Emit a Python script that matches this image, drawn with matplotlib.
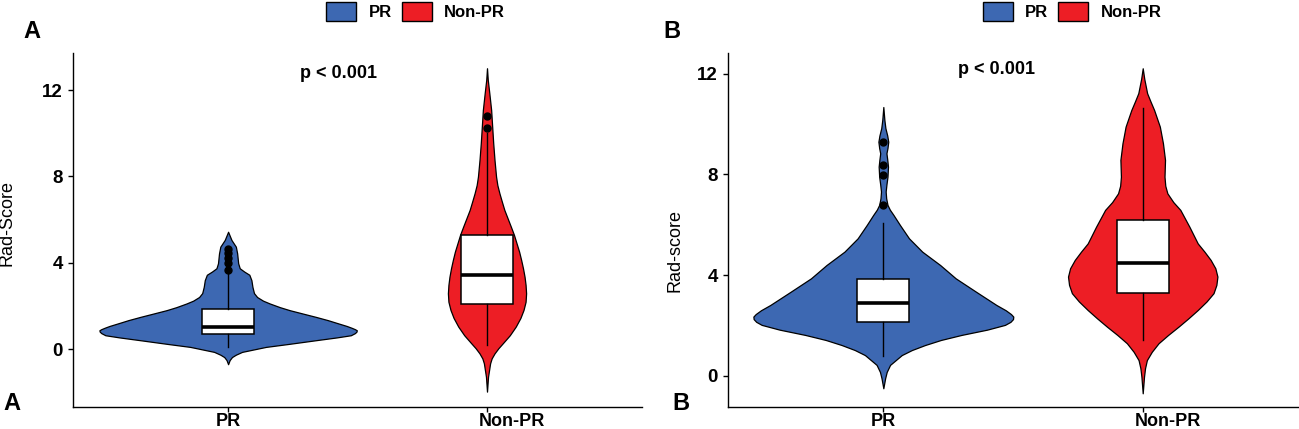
import matplotlib.pyplot as plt
from matplotlib.patches import Patch
from matplotlib.transforms import ScaledTranslation

plt.rcParams['font.family'] = ['Liberation Sans', 'DejaVu Sans']
plt.rcParams['font.weight'] = 'bold'

groups = ['PR', 'Non-PR']
colors = ['#3D68B2', '#ED1E25']

# violin outlines: score level and half width (category units)
a_pr_y = [5.44, 5.06, 4.75, 4.44, 3.98, 3.75, 3.60, 3.45, 3.20, 2.89, 2.60, 2.42, 2.25,
          2.12, 1.95, 1.81, 1.65, 1.50, 1.35, 1.19, 1.08, 1.00, 0.93, 0.88, 0.82, 0.75,
          0.65, 0.55, 0.42, 0.25, 0.11, -0.12, -0.25, -0.36, -0.50, -0.69]
a_pr_w = [0.0, 0.013, 0.030, 0.035, 0.039, 0.045, 0.062, 0.082, 0.090, 0.094, 0.100,
          0.112, 0.135, 0.161, 0.200, 0.238, 0.290, 0.339, 0.385, 0.428, 0.458, 0.476,
          0.490, 0.497, 0.496, 0.490, 0.474, 0.420, 0.339, 0.235, 0.146, 0.054, 0.030,
          0.015, 0.006, 0.0]

a_np_y = [13.01, 12.47, 11.85, 11.08, 10.31, 9.54, 8.76, 7.99, 7.60, 7.22, 6.85, 6.45,
          6.05, 5.68, 5.30, 4.91, 4.52, 4.13, 3.75, 3.36, 2.98, 2.59, 2.20, 1.82, 1.45,
          1.05, 0.65, 0.28, 0.05, -0.19, -0.42, -0.65, -1.27, -1.96]
a_np_w = [0.0, 0.003, 0.009, 0.016, 0.020, 0.024, 0.029, 0.035, 0.040, 0.048, 0.057,
          0.067, 0.080, 0.092, 0.104, 0.114, 0.124, 0.132, 0.139, 0.145, 0.149, 0.151,
          0.149, 0.141, 0.129, 0.111, 0.088, 0.061, 0.044, 0.029, 0.018, 0.012, 0.004, 0.0]

b_pr_y = [10.68, 10.17, 9.84, 9.55, 9.30, 9.05, 8.84, 8.60, 8.31, 7.91, 7.60, 7.32, 7.05,
          6.79, 6.60, 6.39, 5.99, 5.46, 4.93, 4.40, 3.87, 3.34, 2.81, 2.60, 2.45, 2.35,
          2.25, 2.14, 2.02, 1.83, 1.62, 1.42, 1.22, 1.02, 0.82, 0.43, 0.15, -0.10, -0.50]
b_pr_w = [0.0, 0.004, 0.008, 0.015, 0.019, 0.016, 0.012, 0.015, 0.018, 0.016, 0.012,
          0.009, 0.011, 0.016, 0.025, 0.039, 0.064, 0.099, 0.150, 0.219, 0.279, 0.357,
          0.436, 0.472, 0.492, 0.501, 0.500, 0.490, 0.469, 0.400, 0.301, 0.222, 0.161,
          0.110, 0.071, 0.026, 0.013, 0.007, 0.0]

b_np_y = [12.22, 11.80, 11.23, 10.90, 10.56, 9.90, 9.24, 8.58, 7.91, 7.55, 7.25, 6.90,
          6.59, 5.92, 5.26, 4.93, 4.60, 4.27, 3.94, 3.61, 3.28, 2.95, 2.61, 2.28, 1.95,
          1.62, 1.29, 0.95, 0.62, 0.30, -0.04, -0.70]
b_np_w = [0.0, 0.006, 0.017, 0.030, 0.044, 0.066, 0.078, 0.086, 0.084, 0.087, 0.095,
          0.118, 0.145, 0.180, 0.212, 0.238, 0.262, 0.280, 0.288, 0.284, 0.273, 0.246,
          0.212, 0.176, 0.138, 0.098, 0.061, 0.035, 0.016, 0.009, 0.005, 0.0]

# box plot summaries
a_pr_box = dict(whislo=0.12, q1=0.71, med=1.05, q3=1.85, whishi=3.55,
                fliers=[3.67, 3.98, 4.21, 4.44, 4.63])
a_np_box = dict(whislo=0.20, q1=2.10, med=3.44, q3=5.29, whishi=10.0,
                fliers=[10.26, 10.82])
b_pr_box = dict(whislo=0.80, q1=2.12, med=2.88, q3=3.83, whishi=6.06,
                fliers=[6.77, 7.98, 8.38, 9.30])
b_np_box = dict(whislo=1.42, q1=3.28, med=4.49, q3=6.19, whishi=10.64, fliers=[])

panels = [
    dict(rect=[0.0560, 0.0506, 0.4385, 0.8266], ylim=(-2.685, 13.73),
         violins=[(a_pr_y, a_pr_w), (a_np_y, a_np_w)], boxes=[a_pr_box, a_np_box],
         ylabel='Rad-Score', ylabel_xy=(7.5, 223), ptext_xy=(339, 78),
         letters=[(23, 38), (3, 410)], letter='A', legend_x=326),
    dict(rect=[0.5602, 0.0506, 0.4393, 0.8266], ylim=(-1.256, 12.84),
         violins=[(b_pr_y, b_pr_w), (b_np_y, b_np_w)], boxes=[b_pr_box, b_np_box],
         ylabel='Rad-score', ylabel_xy=(675, 251), ptext_xy=(996, 74),
         letters=[(663, 38), (672, 410)], letter='B', legend_x=982.7),
]

W, H = 1299, 429
fig = plt.figure(figsize=(W / 100, H / 100), dpi=100)

for p in panels:
    ax = fig.add_axes(p['rect'])
    for i, ((yy, ww), box) in enumerate(zip(p['violins'], p['boxes'])):
        pos = i + 1
        ax.fill_betweenx(yy, [pos - w for w in ww], [pos + w for w in ww],
                         facecolor=colors[i], edgecolor='black', linewidth=0.9,
                         joinstyle='round', zorder=1)
        ax.bxp([box], positions=[pos], widths=0.2, patch_artist=True, showcaps=False,
               manage_ticks=False,
               boxprops=dict(facecolor='white', edgecolor='black', linewidth=1.1),
               medianprops=dict(color='black', linewidth=2.6),
               whiskerprops=dict(color='black', linewidth=1.0),
               flierprops=dict(marker='o', markerfacecolor='black', markeredgecolor='black',
                               markersize=5))
    ax.set_xlim(0.4, 2.6)
    ax.set_ylim(*p['ylim'])
    ax.set_yticks([0, 4, 8, 12])
    ax.set_xticks([1, 2])
    ax.set_xticklabels(groups)
    for s in ['top', 'right']:
        ax.spines[s].set_visible(False)
    for s in ['left', 'bottom']:
        ax.spines[s].set_linewidth(1.0)
    ax.tick_params(axis='y', labelsize=13.5, length=3.6, width=1.0, pad=3.5)
    ax.tick_params(axis='x', labelsize=13, length=3.6, width=1.0, pad=0.3)
    # the Non-PR label sits a bit right of its tick in the original
    lbl = ax.get_xticklabels()[1]
    lbl.set_transform(lbl.get_transform() + ScaledTranslation(0.25, 0, fig.dpi_scale_trans))

    fig.text(p['ylabel_xy'][0] / W, 1 - p['ylabel_xy'][1] / H, p['ylabel'],
             rotation=90, ha='center', va='center', fontsize=13, fontweight='normal')
    fig.text(p['ptext_xy'][0] / W, 1 - p['ptext_xy'][1] / H, 'p < 0.001',
             ha='center', va='baseline', fontsize=13, fontweight='bold')
    for lx, ly in p['letters']:
        fig.text(lx / W, 1 - ly / H, p['letter'], ha='left', va='baseline',
                 fontsize=17, fontweight='bold')

    handles = [Patch(facecolor=c, edgecolor='black', linewidth=1.0) for c in colors]
    fig.legend(handles, groups, loc='upper left', ncol=2, frameon=False,
               bbox_to_anchor=(p['legend_x'] / W, 1 - 1.7 / H), borderpad=0,
               borderaxespad=0, fontsize=12, handlelength=1.8, handleheight=1.38,
               handletextpad=0.75, columnspacing=0.6)

fig.savefig('out.png', dpi=100)
